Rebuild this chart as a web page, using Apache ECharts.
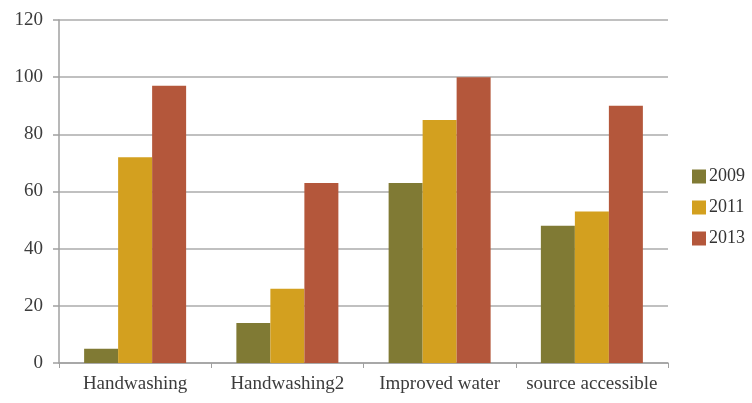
<!DOCTYPE html>
<html>
<head>
<meta charset="utf-8">
<script src="https://cdn.jsdelivr.net/npm/echarts@6/dist/echarts.min.js"></script>
<style>
html,body{margin:0;padding:0;background:#fff;}
#c{width:752px;height:403px;}
</style>
</head>
<body>
<div id="c"></div>
<script>
var categories = ['Handwashing', 'Handwashing2', 'Improved water', 'source accessible'];
var seriesNames = ['2009', '2011', '2013'];
var values2009 = [5, 14, 63, 48];
var values2011 = [72, 26, 85, 53];
var values2013 = [97, 63, 100, 90];
var yTicks = {min: 0, max: 120, interval: 20};
var colors = ['#807A34', '#D3A01F', '#B4573B'];

var fontFam = '"Liberation Serif", "DejaVu Serif", serif';
var chart = echarts.init(document.getElementById('c'), null, {renderer: 'canvas'});
var dataSets = [values2009, values2011, values2013];
chart.setOption({
  animation: false,
  backgroundColor: '#ffffff',
  color: colors,
  grid: {left: 59, right: 84, top: 20, bottom: 40, containLabel: false},
  legend: {
    orient: 'vertical',
    left: 687,
    top: 160,
    itemWidth: 14,
    itemHeight: 14,
    itemGap: 8,
    icon: 'rect',
    textStyle: {fontFamily: fontFam, fontSize: 18, color: '#333333', lineHeight: 21, padding: [2, 0, 0, -2]},
    data: seriesNames
  },
  xAxis: {
    type: 'category',
    data: categories,
    axisLine: {show: true, lineStyle: {color: '#A0A0A0', width: 1.5}},
    axisTick: {show: true, length: 5, lineStyle: {color: '#A0A0A0', width: 1}},
    axisLabel: {fontFamily: fontFam, fontSize: 19, color: '#3c3c3c', margin: 12, interval: 0}
  },
  yAxis: {
    type: 'value',
    min: yTicks.min,
    max: yTicks.max,
    interval: yTicks.interval,
    axisLine: {show: true, lineStyle: {color: '#A0A0A0', width: 1.5}},
    axisTick: {show: true, length: 6, lineStyle: {color: '#A0A0A0', width: 1.5}},
    axisLabel: {fontFamily: fontFam, fontSize: 19, color: '#3c3c3c', margin: 16},
    splitLine: {show: true, lineStyle: {color: '#ABABAB', width: 1.5}}
  },
  series: seriesNames.map(function (n, i) {
    return {
      name: n,
      type: 'bar',
      data: dataSets[i],
      barGap: '0%',
      barCategoryGap: '33%',
      itemStyle: {color: colors[i]}
    };
  })
});
</script>
</body>
</html>
